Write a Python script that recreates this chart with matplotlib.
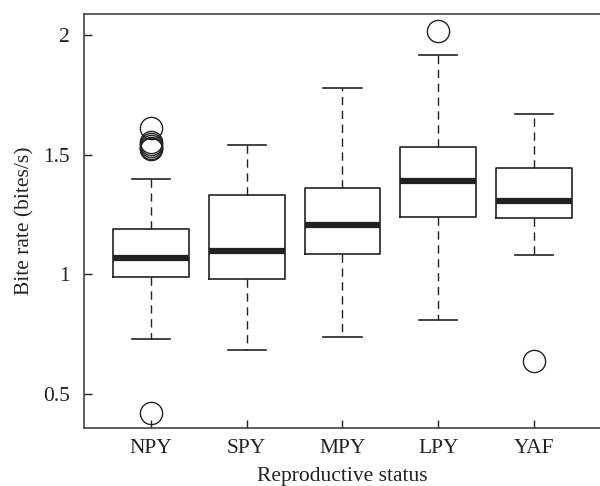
import matplotlib
matplotlib.use("Agg")
import matplotlib.pyplot as plt

plt.rcParams['font.family'] = ['Liberation Serif', 'DejaVu Serif']

# values
groups = ['NPY', 'SPY', 'MPY', 'LPY', 'YAF']
medians = [1.07, 1.10, 1.205, 1.39, 1.305]
q1 = [0.99, 0.98, 1.085, 1.24, 1.237]
q3 = [1.19, 1.33, 1.36, 1.533, 1.446]
whislo = [0.73, 0.683, 0.74, 0.81, 1.08]
whishi = [1.40, 1.54, 1.78, 1.917, 1.67]
outliers = [
    [0.42, 1.61, 1.555, 1.545, 1.535, 1.53, 1.525],
    [],
    [],
    [2.017],
    [0.638],
]

stats = []
for i, g in enumerate(groups):
    stats.append(dict(label=g, med=medians[i], q1=q1[i], q3=q3[i],
                      whislo=whislo[i], whishi=whishi[i], fliers=outliers[i]))

ink = '#222222'
fig = plt.figure(figsize=(6, 4.86), dpi=100)
ax = fig.add_axes([0.14, 0.119, 0.86, 0.852])

ax.bxp(stats, positions=range(1, 6), widths=0.79, showfliers=True,
       boxprops=dict(color=ink, linewidth=1.2),
       medianprops=dict(color=ink, linewidth=4.5, solid_capstyle='butt'),
       whiskerprops=dict(color=ink, linewidth=1.0, linestyle=(0, (6, 4))),
       capprops=dict(color=ink, linewidth=1.2),
       capwidths=0.4,
       flierprops=dict(marker='o', markersize=16, markerfacecolor='none',
                       markeredgecolor=ink, markeredgewidth=1.0))

ax.set_xlim(0.30, 5.69)
ax.set_ylim(0.358, 2.0875)
ax.set_yticks([0.5, 1, 1.5, 2])
ax.set_yticklabels(['0.5', '1', '1.5', '2'])
ax.set_xticks(range(1, 6))
ax.set_xticklabels(groups)
ax.tick_params(direction='in', length=6, width=1, color=ink, labelsize=15.5,
               labelcolor=ink)
ax.tick_params(axis='x', pad=8)
ax.tick_params(axis='y', pad=10)
for s in ['left', 'bottom', 'top']:
    ax.spines[s].set_color('#444444')
    ax.spines[s].set_linewidth(1.2)
ax.spines['right'].set_visible(False)

ax.set_xlabel('Reproductive status', fontsize=15.5, color=ink, labelpad=6)
ax.set_ylabel('Bite rate (bites/s)', fontsize=15.5, color=ink, labelpad=6)

fig.savefig('out.png', dpi=100)
